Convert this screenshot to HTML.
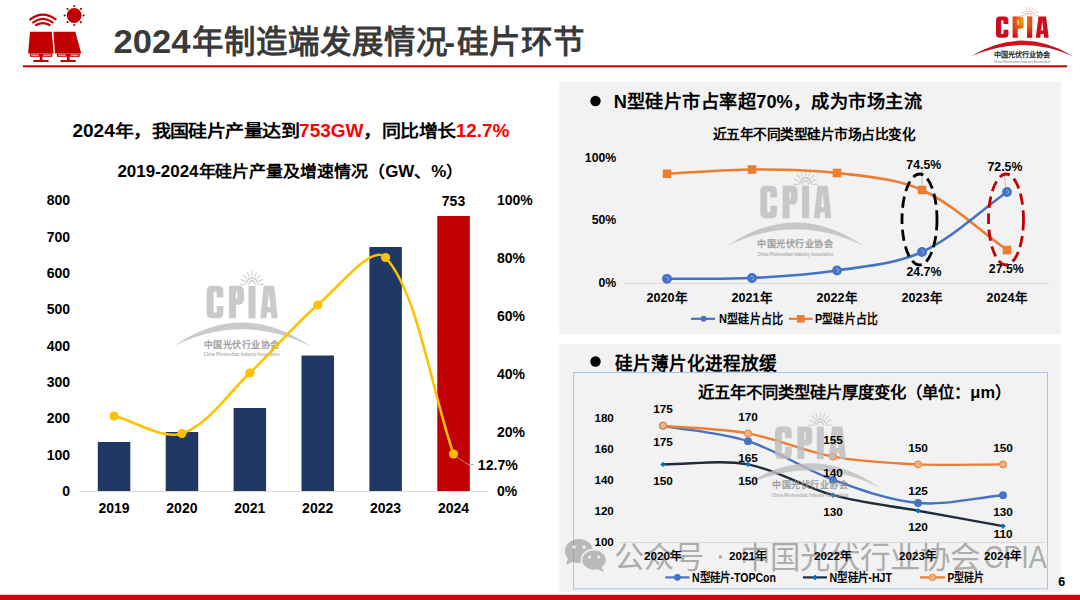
<!DOCTYPE html>
<html lang="zh-CN"><head><meta charset="utf-8"><title>2024年制造端发展情况-硅片环节</title>
<style>html,body{margin:0;padding:0;background:#fff;}body{width:1080px;height:600px;overflow:hidden;font-family:"Liberation Sans",sans-serif;}svg{display:block;}</style>
</head><body>
<svg width="1080" height="600" viewBox="0 0 1080 600" font-family="Liberation Sans, sans-serif">
<rect x="0" y="0" width="1080" height="600" fill="#fff"/>
<g fill="#c00000">
<path d="M30,31.8 L51.8,31.8 L53.7,53.6 L28.1,53.6 Z"/>
<path d="M53.4,31.8 L75.3,31.8 L81.3,53.6 L55,53.6 Z"/>
<circle cx="74.2" cy="15.5" r="7.4"/>
</g>
<g fill="none" stroke="#c00000" stroke-width="2.2" stroke-linecap="round">
<path d="M30.3,19.4 Q42.9,9.9 55.6,19.4"/>
<path d="M33.2,22.3 Q42.9,15.6 52.7,22.3"/>
<path d="M36.1,25 Q42.9,21.2 49.6,25"/>
</g>
<g fill="#c00000">
<circle cx="83.7" cy="15.5" r="1.1"/><circle cx="80.9" cy="22.2" r="1.1"/><circle cx="74.2" cy="25.0" r="1.1"/><circle cx="67.5" cy="22.2" r="1.1"/><circle cx="64.7" cy="15.5" r="1.1"/><circle cx="67.5" cy="8.8" r="1.1"/><circle cx="74.2" cy="6.0" r="1.1"/><circle cx="80.9" cy="8.8" r="1.1"/>
<rect x="30" y="53.6" width="22.2" height="3.2"/><rect x="56.9" y="53.6" width="22.8" height="3.2"/>
<rect x="39.8" y="56" width="2.6" height="4.6"/><rect x="67" y="56" width="2.6" height="4.6"/>
<rect x="33.2" y="60" width="15.5" height="2" rx="0.8"/><rect x="60.4" y="60" width="15.5" height="2" rx="0.8"/>
</g>
<g fill="#fff" opacity="0.75"><rect x="31.2" y="54.5" width="7.6" height="1.3"/><rect x="43.2" y="54.5" width="7.6" height="1.3"/><rect x="58.2" y="54.5" width="7.6" height="1.3"/><rect x="70.6" y="54.5" width="7.6" height="1.3"/></g>
<rect x="23" y="65.3" width="1044" height="2" fill="#c00000"/>
<text y="52.8" font-weight="bold" fill="#3a3a3a"><tspan x="113.6" font-size="34" textLength="77" lengthAdjust="spacingAndGlyphs">2024</tspan><tspan x="191.5" font-size="31.5">年制造端发展情况</tspan><tspan x="444.5" font-size="31.5">-</tspan><tspan x="456.5" font-size="31.5">硅片环节</tspan></text>
<defs>
<radialGradient id="lg" cx="125" cy="22" r="80" gradientUnits="userSpaceOnUse">
<stop offset="0" stop-color="#f5a300"/><stop offset="0.45" stop-color="#e8550c"/><stop offset="1" stop-color="#d00a1e"/>
</radialGradient>
<linearGradient id="ag" x1="0" x2="1" y1="0" y2="0"><stop offset="0" stop-color="#b0101e"/><stop offset="0.5" stop-color="#d8141e"/><stop offset="1" stop-color="#b0101e"/></linearGradient>
</defs>
<g opacity="1.0">
<g transform="translate(996,16.4) scale(0.214,0.214)">
<path d="M 18 0 H 40 Q 58 0 58 18 V 36 H 35 V 22 Q 35 18 31 18 H 28 Q 24 18 24 22 V 78 Q 24 82 28 82 H 31 Q 35 82 35 78 V 62 H 58 V 82 Q 58 100 40 100 H 18 Q 0 100 0 82 V 18 Q 0 0 18 0 Z" fill="url(#lg)" fill-rule="evenodd"/>
<path d="M 77.6 0 H 111.6 Q 129.4 0 129.4 18 V 40 Q 129.4 58 111.6 58 H 101.6 V 100 H 77.6 Z M 101.6 17 H 103.6 Q 106.1 17 106.1 20 V 38 Q 106.1 41 103.6 41 H 101.6 Z" fill="url(#lg)" fill-rule="evenodd"/>
<path d="M 144.9 0 H 169.2 V 100 H 144.9 Z" fill="url(#lg)" fill-rule="evenodd"/>
<path d="M 198 0 H 234 L 246.3 100 H 225 L 223 82 H 209 L 207 100 H 186 Z M 211 66 H 221 L 216 20 Z" fill="url(#lg)" fill-rule="evenodd"/>
<path d="M-115,186 Q122,40 360,186 Q122,82 -115,186 Z" fill="url(#ag)"/>
<g fill="none" stroke="#f0b8b8" stroke-width="5"><path d="M137,-4 A20,20 0 0 1 177,-4"/><path d="M146,-4 A11,11 0 0 1 168,-4"/></g>
<path d="M182.0,-4.0 L199.0,-4.0 M180.1,-13.6 L195.8,-20.1 M174.7,-21.7 L186.7,-33.7 M166.6,-27.1 L173.1,-42.8 M157.0,-29.0 L157.0,-46.0 M147.4,-27.1 L140.9,-42.8 M139.3,-21.7 L127.3,-33.7 M133.9,-13.6 L118.2,-20.1 M132.0,-4.0 L115.0,-4.0" stroke="#f0b8b8" stroke-width="3.5" fill="none"/>
</g>
<text x="993.9" y="57.1" font-size="7.08" font-weight="bold" fill="#2a2a2a" textLength="56.6" lengthAdjust="spacingAndGlyphs">中国光伏行业协会</text>
<text x="993.9" y="62.6" font-size="4.04" font-weight="bold" fill="#9a9a9a" textLength="56.6" lengthAdjust="spacingAndGlyphs">China Photovoltaic Industry Association</text>
</g>
<text x="72.5" y="137" font-size="17.5" font-weight="bold" fill="#000" textLength="437" lengthAdjust="spacingAndGlyphs">2024年，我国硅片产量达到<tspan fill="#ff0000">753GW</tspan>，同比增长<tspan fill="#ff0000">12.7%</tspan></text>
<text x="117.4" y="177.4" font-size="16" font-weight="bold" fill="#000" text-anchor="start" textLength="346" lengthAdjust="spacingAndGlyphs">2019-2024年硅片产量及增速情况（GW、%）</text>
<text x="70.1" y="496.1" font-size="14" font-weight="bold" fill="#000" text-anchor="end" >0</text>
<text x="70.1" y="459.7" font-size="14" font-weight="bold" fill="#000" text-anchor="end" >100</text>
<text x="70.1" y="423.4" font-size="14" font-weight="bold" fill="#000" text-anchor="end" >200</text>
<text x="70.1" y="387.0" font-size="14" font-weight="bold" fill="#000" text-anchor="end" >300</text>
<text x="70.1" y="350.6" font-size="14" font-weight="bold" fill="#000" text-anchor="end" >400</text>
<text x="70.1" y="314.2" font-size="14" font-weight="bold" fill="#000" text-anchor="end" >500</text>
<text x="70.1" y="277.9" font-size="14" font-weight="bold" fill="#000" text-anchor="end" >600</text>
<text x="70.1" y="241.5" font-size="14" font-weight="bold" fill="#000" text-anchor="end" >700</text>
<text x="70.1" y="205.1" font-size="14" font-weight="bold" fill="#000" text-anchor="end" >800</text>
<text x="497" y="495.5" font-size="14" font-weight="bold" fill="#000" text-anchor="start" >0%</text>
<text x="497" y="437.3" font-size="14" font-weight="bold" fill="#000" text-anchor="start" >20%</text>
<text x="497" y="379.1" font-size="14" font-weight="bold" fill="#000" text-anchor="start" >40%</text>
<text x="497" y="320.9" font-size="14" font-weight="bold" fill="#000" text-anchor="start" >60%</text>
<text x="497" y="262.7" font-size="14" font-weight="bold" fill="#000" text-anchor="start" >80%</text>
<text x="497" y="204.5" font-size="14" font-weight="bold" fill="#000" text-anchor="start" >100%</text>
<line x1="80" y1="491.5" x2="488" y2="491.5" stroke="#d9d9d9" stroke-width="1"/>
<rect x="97.8" y="442" width="32.5" height="49" fill="#203864"/>
<text x="114.0" y="513.4" font-size="14" font-weight="bold" fill="#000" text-anchor="middle" >2019</text>
<rect x="165.7" y="432" width="32.5" height="59" fill="#203864"/>
<text x="181.9" y="513.4" font-size="14" font-weight="bold" fill="#000" text-anchor="middle" >2020</text>
<rect x="233.6" y="408" width="32.5" height="83" fill="#203864"/>
<text x="249.8" y="513.4" font-size="14" font-weight="bold" fill="#000" text-anchor="middle" >2021</text>
<rect x="301.5" y="355.5" width="32.5" height="135.5" fill="#203864"/>
<text x="317.7" y="513.4" font-size="14" font-weight="bold" fill="#000" text-anchor="middle" >2022</text>
<rect x="369.4" y="247" width="32.5" height="244" fill="#203864"/>
<text x="385.6" y="513.4" font-size="14" font-weight="bold" fill="#000" text-anchor="middle" >2023</text>
<rect x="437.3" y="216" width="32.5" height="275" fill="#c00000"/>
<text x="453.5" y="513.4" font-size="14" font-weight="bold" fill="#000" text-anchor="middle" >2024</text>
<text x="453.5" y="206.4" font-size="14" font-weight="bold" fill="#000" text-anchor="middle" >753</text>
<g opacity="0.8">
<g transform="translate(206.7,285.8) scale(0.2883,0.325)">
<path d="M 18 0 H 40 Q 58 0 58 18 V 36 H 35 V 22 Q 35 18 31 18 H 28 Q 24 18 24 22 V 78 Q 24 82 28 82 H 31 Q 35 82 35 78 V 62 H 58 V 82 Q 58 100 40 100 H 18 Q 0 100 0 82 V 18 Q 0 0 18 0 Z" fill="#bdbdbd" fill-rule="evenodd"/>
<path d="M 77.6 0 H 111.6 Q 129.4 0 129.4 18 V 40 Q 129.4 58 111.6 58 H 101.6 V 100 H 77.6 Z M 101.6 17 H 103.6 Q 106.1 17 106.1 20 V 38 Q 106.1 41 103.6 41 H 101.6 Z" fill="#bdbdbd" fill-rule="evenodd"/>
<path d="M 144.9 0 H 169.2 V 100 H 144.9 Z" fill="#bdbdbd" fill-rule="evenodd"/>
<path d="M 198 0 H 234 L 246.3 100 H 225 L 223 82 H 209 L 207 100 H 186 Z M 211 66 H 221 L 216 20 Z" fill="#bdbdbd" fill-rule="evenodd"/>
<path d="M-115,186 Q122,40 360,186 Q122,82 -115,186 Z" fill="#bdbdbd"/>
<g fill="none" stroke="#c4c4c4" stroke-width="5"><path d="M137,-4 A20,20 0 0 1 177,-4"/><path d="M146,-4 A11,11 0 0 1 168,-4"/></g>
<path d="M182.0,-4.0 L199.0,-4.0 M180.1,-13.6 L195.8,-20.1 M174.7,-21.7 L186.7,-33.7 M166.6,-27.1 L173.1,-42.8 M157.0,-29.0 L157.0,-46.0 M147.4,-27.1 L140.9,-42.8 M139.3,-21.7 L127.3,-33.7 M133.9,-13.6 L118.2,-20.1 M132.0,-4.0 L115.0,-4.0" stroke="#c4c4c4" stroke-width="3.5" fill="none"/>
</g>
<text x="203.8" y="347.6" font-size="9.50" font-weight="bold" fill="#8a8a8a" textLength="76" lengthAdjust="spacingAndGlyphs">中国光伏行业协会</text>
<text x="203.8" y="356.0" font-size="5.43" font-weight="bold" fill="#9c9c9c" textLength="76" lengthAdjust="spacingAndGlyphs">China Photovoltaic Industry Association</text>
</g>
<path d="M114.0,416.0 C136.6,421.8 162.2,439.7 181.9,433.5 C207.5,425.4 227.8,393.8 249.8,373.0 C273.1,351.0 293.4,325.7 317.7,305.0 C338.7,287.2 372.7,243.3 385.6,257.5 C418.0,293.0 430.9,388.5 453.5,454.0" fill="none" stroke="#ffc000" stroke-width="2.6"/>
<circle cx="114" cy="416" r="4.6" fill="#ffc000"/>
<circle cx="181.9" cy="433.5" r="4.6" fill="#ffc000"/>
<circle cx="249.8" cy="373" r="4.6" fill="#ffc000"/>
<circle cx="317.7" cy="305" r="4.6" fill="#ffc000"/>
<circle cx="385.6" cy="257.5" r="4.6" fill="#ffc000"/>
<circle cx="453.5" cy="454" r="4.6" fill="#ffc000"/>
<path d="M453.3,454.5 L468,464.5 L474,464.5" fill="none" stroke="#a6a6a6" stroke-width="0.8"/>
<text x="477.8" y="469.5" font-size="14.5" font-weight="bold" fill="#000" text-anchor="start" textLength="40" lengthAdjust="spacingAndGlyphs">12.7%</text>
<rect x="559.5" y="82" width="501.5" height="252.5" fill="#f2f2f2"/>
<circle cx="595.5" cy="101" r="5.2" fill="#000"/>
<text x="613.8" y="108" font-size="18.7" font-weight="bold" fill="#000" text-anchor="start" textLength="308.3" lengthAdjust="spacingAndGlyphs">N型硅片市占率超70%，成为市场主流</text>
<text x="712.5" y="139.2" font-size="13.2" font-weight="bold" fill="#000" text-anchor="start" textLength="203" lengthAdjust="spacingAndGlyphs">近五年不同类型硅片市场占比变化</text>
<text x="616.3" y="162.4" font-size="12.3" font-weight="bold" fill="#000" text-anchor="end" >100%</text>
<text x="616.3" y="224.4" font-size="12.3" font-weight="bold" fill="#000" text-anchor="end" >50%</text>
<text x="616.3" y="287.4" font-size="12.3" font-weight="bold" fill="#000" text-anchor="end" >0%</text>
<line x1="624" y1="283.3" x2="1049" y2="283.3" stroke="#d9d9d9" stroke-width="1"/>
<g opacity="0.8">
<g transform="translate(760.3,185.7) scale(0.2883,0.325)">
<path d="M 18 0 H 40 Q 58 0 58 18 V 36 H 35 V 22 Q 35 18 31 18 H 28 Q 24 18 24 22 V 78 Q 24 82 28 82 H 31 Q 35 82 35 78 V 62 H 58 V 82 Q 58 100 40 100 H 18 Q 0 100 0 82 V 18 Q 0 0 18 0 Z" fill="#bdbdbd" fill-rule="evenodd"/>
<path d="M 77.6 0 H 111.6 Q 129.4 0 129.4 18 V 40 Q 129.4 58 111.6 58 H 101.6 V 100 H 77.6 Z M 101.6 17 H 103.6 Q 106.1 17 106.1 20 V 38 Q 106.1 41 103.6 41 H 101.6 Z" fill="#bdbdbd" fill-rule="evenodd"/>
<path d="M 144.9 0 H 169.2 V 100 H 144.9 Z" fill="#bdbdbd" fill-rule="evenodd"/>
<path d="M 198 0 H 234 L 246.3 100 H 225 L 223 82 H 209 L 207 100 H 186 Z M 211 66 H 221 L 216 20 Z" fill="#bdbdbd" fill-rule="evenodd"/>
<path d="M-115,186 Q122,40 360,186 Q122,82 -115,186 Z" fill="#bdbdbd"/>
<g fill="none" stroke="#c4c4c4" stroke-width="5"><path d="M137,-4 A20,20 0 0 1 177,-4"/><path d="M146,-4 A11,11 0 0 1 168,-4"/></g>
<path d="M182.0,-4.0 L199.0,-4.0 M180.1,-13.6 L195.8,-20.1 M174.7,-21.7 L186.7,-33.7 M166.6,-27.1 L173.1,-42.8 M157.0,-29.0 L157.0,-46.0 M147.4,-27.1 L140.9,-42.8 M139.3,-21.7 L127.3,-33.7 M133.9,-13.6 L118.2,-20.1 M132.0,-4.0 L115.0,-4.0" stroke="#c4c4c4" stroke-width="3.5" fill="none"/>
</g>
<text x="757.4" y="247.4" font-size="9.50" font-weight="bold" fill="#8a8a8a" textLength="76" lengthAdjust="spacingAndGlyphs">中国光伏行业协会</text>
<text x="757.4" y="255.9" font-size="5.43" font-weight="bold" fill="#9c9c9c" textLength="76" lengthAdjust="spacingAndGlyphs">China Photovoltaic Industry Association</text>
</g>
<path d="M667.0,173.8 C695.3,172.4 723.7,169.6 752.0,169.5 C780.3,169.4 808.9,169.6 837.0,173.0 C865.6,176.4 896.2,178.3 922.0,190.0 C952.9,204.0 978.7,230.0 1007.0,250.0" fill="none" stroke="#ed7d31" stroke-width="2.6"/>
<path d="M667.0,278.8 C695.3,278.5 723.7,279.4 752.0,278.0 C780.4,276.6 808.9,274.8 837.0,270.5 C865.6,266.1 896.2,263.9 922.0,252.0 C952.9,237.7 978.7,212.0 1007.0,192.0" fill="none" stroke="#4472c4" stroke-width="2.6"/>
<rect x="662.7" y="169.5" width="8.6" height="8.6" fill="#ed7d31"/>
<rect x="747.7" y="165.2" width="8.6" height="8.6" fill="#ed7d31"/>
<rect x="832.7" y="168.7" width="8.6" height="8.6" fill="#ed7d31"/>
<rect x="917.7" y="185.7" width="8.6" height="8.6" fill="#ed7d31"/>
<rect x="1002.7" y="245.7" width="8.6" height="8.6" fill="#ed7d31"/>
<circle cx="667" cy="278.8" r="4.9" fill="#4472c4"/><path d="M666,277.2 h1.5 q1,0 1,1.2 v0.8 q0,1.2 -1,1.2 h-0.6" fill="none" stroke="#a9bfe8" stroke-width="0.8"/>
<circle cx="752" cy="278" r="4.9" fill="#4472c4"/><path d="M751,276.4 h1.5 q1,0 1,1.2 v0.8 q0,1.2 -1,1.2 h-0.6" fill="none" stroke="#a9bfe8" stroke-width="0.8"/>
<circle cx="837" cy="270.5" r="4.9" fill="#4472c4"/><path d="M836,268.9 h1.5 q1,0 1,1.2 v0.8 q0,1.2 -1,1.2 h-0.6" fill="none" stroke="#a9bfe8" stroke-width="0.8"/>
<circle cx="922" cy="252" r="4.9" fill="#4472c4"/><path d="M921,250.4 h1.5 q1,0 1,1.2 v0.8 q0,1.2 -1,1.2 h-0.6" fill="none" stroke="#a9bfe8" stroke-width="0.8"/>
<circle cx="1007" cy="192" r="4.9" fill="#4472c4"/><path d="M1006,190.4 h1.5 q1,0 1,1.2 v0.8 q0,1.2 -1,1.2 h-0.6" fill="none" stroke="#a9bfe8" stroke-width="0.8"/>
<text x="667" y="302.2" font-size="12.6" font-weight="bold" fill="#000" text-anchor="middle" >2020年</text>
<text x="752" y="302.2" font-size="12.6" font-weight="bold" fill="#000" text-anchor="middle" >2021年</text>
<text x="837" y="302.2" font-size="12.6" font-weight="bold" fill="#000" text-anchor="middle" >2022年</text>
<text x="922" y="302.2" font-size="12.6" font-weight="bold" fill="#000" text-anchor="middle" >2023年</text>
<text x="1007" y="302.2" font-size="12.6" font-weight="bold" fill="#000" text-anchor="middle" >2024年</text>
<line x1="922" y1="170" x2="922" y2="186" stroke="#a6a6a6" stroke-width="0.7"/>
<line x1="1004" y1="172" x2="1006" y2="188" stroke="#a6a6a6" stroke-width="0.7"/>
<text x="923.8" y="168.5" font-size="12.3" font-weight="bold" fill="#000" text-anchor="middle" >74.5%</text>
<text x="1004.9" y="170.6" font-size="12.3" font-weight="bold" fill="#000" text-anchor="middle" >72.5%</text>
<text x="923.9" y="276.3" font-size="12.3" font-weight="bold" fill="#000" text-anchor="middle" >24.7%</text>
<text x="1006.3" y="272.6" font-size="12.3" font-weight="bold" fill="#000" text-anchor="middle" >27.5%</text>
<ellipse cx="919.5" cy="219.5" rx="17.5" ry="45.5" fill="none" stroke="#000" stroke-width="2.8" stroke-dasharray="11,5.5"/>
<ellipse cx="1006" cy="219.5" rx="17.5" ry="45.5" fill="none" stroke="#c00000" stroke-width="2.8" stroke-dasharray="11,5.5"/>
<line x1="691" y1="318.8" x2="715" y2="318.8" stroke="#4472c4" stroke-width="2.2"/><circle cx="703.5" cy="318.8" r="3" fill="#4472c4"/>
<text x="719" y="323.3" font-size="12.6" font-weight="bold" fill="#000" text-anchor="start" textLength="64.7" lengthAdjust="spacingAndGlyphs">N型硅片占比</text>
<line x1="788.7" y1="318.8" x2="812.7" y2="318.8" stroke="#ed7d31" stroke-width="2.2"/><rect x="797" y="315" width="7.6" height="7.6" fill="#ed7d31"/>
<text x="815" y="323.3" font-size="12.6" font-weight="bold" fill="#000" text-anchor="start" textLength="63" lengthAdjust="spacingAndGlyphs">P型硅片占比</text>
<rect x="559.5" y="343.8" width="501.5" height="248.4" fill="#f2f2f2"/>
<circle cx="595.5" cy="361.5" r="5.2" fill="#000"/>
<text x="614.5" y="369.5" font-size="18.5" font-weight="bold" fill="#000" text-anchor="start" textLength="162.5" lengthAdjust="spacingAndGlyphs">硅片薄片化进程放缓</text>
<rect x="573.5" y="372.5" width="474" height="216.3" fill="none" stroke="#a4c6e8" stroke-width="1"/>
<g opacity="0.55">
<g fill="#8c8c8c">
<ellipse cx="579" cy="551" rx="14" ry="12"/>
<path d="M568,558 L566,565 L574,561 Z"/>
<ellipse cx="594" cy="560" rx="12.5" ry="10.5" stroke="#f2f2f2" stroke-width="1.5"/>
<path d="M601,566 L604,572 L597,569 Z"/>
</g>
<g fill="#f2f2f2"><circle cx="574" cy="547" r="1.8"/><circle cx="584" cy="547" r="1.8"/><circle cx="589.5" cy="557" r="1.5"/><circle cx="598.5" cy="557" r="1.5"/></g>
</g>
<g fill="#7f7f7f" opacity="0.6" font-weight="normal"><text x="614.4" y="568" font-size="30.4">公众号</text><circle cx="720.4" cy="556.9" r="1.8"/><text x="739.9" y="568" font-size="30.4">中国光伏行业协会</text><text x="983.8" y="568" font-size="31.7" textLength="63" lengthAdjust="spacingAndGlyphs">CPIA</text></g>
<text x="698" y="398" font-size="16.4" font-weight="bold" fill="#000" text-anchor="start" textLength="313" lengthAdjust="spacingAndGlyphs">近五年不同类型硅片厚度变化（单位：μm）</text>
<text x="613.8" y="545.8" font-size="11.6" font-weight="bold" fill="#000" text-anchor="end" >100</text>
<text x="613.8" y="514.9" font-size="11.6" font-weight="bold" fill="#000" text-anchor="end" >120</text>
<text x="613.8" y="484.0" font-size="11.6" font-weight="bold" fill="#000" text-anchor="end" >140</text>
<text x="613.8" y="453.1" font-size="11.6" font-weight="bold" fill="#000" text-anchor="end" >160</text>
<text x="613.8" y="422.2" font-size="11.6" font-weight="bold" fill="#000" text-anchor="end" >180</text>
<line x1="620" y1="542.5" x2="1045" y2="542.5" stroke="#d9d9d9" stroke-width="1"/>
<path d="M663.0,464.4 C691.3,464.4 720.5,459.4 748.0,464.4 C777.2,469.7 804.0,487.3 833.0,495.2 C860.7,502.8 889.7,505.6 918.0,510.7 C946.3,515.9 974.7,521.0 1003.0,526.1" fill="none" stroke="#1f2a3c" stroke-width="2.4"/>
<path d="M663.0,425.7 C691.3,430.9 720.8,432.5 748.0,441.2 C777.4,450.5 803.8,469.2 833.0,479.8 C860.5,489.8 889.2,500.4 918.0,503.0 C945.9,505.5 974.7,497.8 1003.0,495.2" fill="none" stroke="#4472c4" stroke-width="2.4"/>
<path d="M663.0,425.7 C691.3,428.3 720.1,428.4 748.0,433.4 C776.8,438.7 804.2,451.4 833.0,456.6 C860.9,461.7 889.6,463.1 918.0,464.4 C946.3,465.6 974.7,464.4 1003.0,464.4" fill="none" stroke="#ed7d31" stroke-width="2.4"/>
<circle cx="663" cy="425.7" r="3.9" fill="#4472c4"/>
<circle cx="748" cy="441.2" r="3.9" fill="#4472c4"/>
<circle cx="833" cy="479.8" r="3.9" fill="#4472c4"/>
<circle cx="918" cy="503.0" r="3.9" fill="#4472c4"/>
<circle cx="1003" cy="495.2" r="3.9" fill="#4472c4"/>
<circle cx="663" cy="425.7" r="3.5" fill="#f4b183" stroke="#ed7d31" stroke-width="1"/>
<circle cx="748" cy="433.4" r="3.5" fill="#f4b183" stroke="#ed7d31" stroke-width="1"/>
<circle cx="833" cy="456.6" r="3.5" fill="#f4b183" stroke="#ed7d31" stroke-width="1"/>
<circle cx="918" cy="464.4" r="3.5" fill="#f4b183" stroke="#ed7d31" stroke-width="1"/>
<circle cx="1003" cy="464.4" r="3.5" fill="#f4b183" stroke="#ed7d31" stroke-width="1"/>
<path d="M663,461.7 L665.7,464.4 L663,467.1 L660.3,464.4 Z" fill="#0070c0"/>
<path d="M748,461.7 L750.7,464.4 L748,467.1 L745.3,464.4 Z" fill="#0070c0"/>
<path d="M833,492.6 L835.7,495.2 L833,497.9 L830.3,495.2 Z" fill="#0070c0"/>
<path d="M918,508.0 L920.7,510.7 L918,513.4 L915.3,510.7 Z" fill="#0070c0"/>
<path d="M1003,523.4 L1005.7,526.1 L1003,528.9 L1000.3,526.1 Z" fill="#0070c0"/>
<g opacity="0.8">
<g transform="translate(775,426.6) scale(0.2883,0.325)">
<path d="M 18 0 H 40 Q 58 0 58 18 V 36 H 35 V 22 Q 35 18 31 18 H 28 Q 24 18 24 22 V 78 Q 24 82 28 82 H 31 Q 35 82 35 78 V 62 H 58 V 82 Q 58 100 40 100 H 18 Q 0 100 0 82 V 18 Q 0 0 18 0 Z" fill="#bdbdbd" fill-rule="evenodd"/>
<path d="M 77.6 0 H 111.6 Q 129.4 0 129.4 18 V 40 Q 129.4 58 111.6 58 H 101.6 V 100 H 77.6 Z M 101.6 17 H 103.6 Q 106.1 17 106.1 20 V 38 Q 106.1 41 103.6 41 H 101.6 Z" fill="#bdbdbd" fill-rule="evenodd"/>
<path d="M 144.9 0 H 169.2 V 100 H 144.9 Z" fill="#bdbdbd" fill-rule="evenodd"/>
<path d="M 198 0 H 234 L 246.3 100 H 225 L 223 82 H 209 L 207 100 H 186 Z M 211 66 H 221 L 216 20 Z" fill="#bdbdbd" fill-rule="evenodd"/>
<path d="M-115,186 Q122,40 360,186 Q122,82 -115,186 Z" fill="#bdbdbd"/>
<g fill="none" stroke="#c4c4c4" stroke-width="5"><path d="M137,-4 A20,20 0 0 1 177,-4"/><path d="M146,-4 A11,11 0 0 1 168,-4"/></g>
<path d="M182.0,-4.0 L199.0,-4.0 M180.1,-13.6 L195.8,-20.1 M174.7,-21.7 L186.7,-33.7 M166.6,-27.1 L173.1,-42.8 M157.0,-29.0 L157.0,-46.0 M147.4,-27.1 L140.9,-42.8 M139.3,-21.7 L127.3,-33.7 M133.9,-13.6 L118.2,-20.1 M132.0,-4.0 L115.0,-4.0" stroke="#c4c4c4" stroke-width="3.5" fill="none"/>
</g>
<text x="772.1" y="488.4" font-size="9.50" font-weight="bold" fill="#8a8a8a" textLength="76" lengthAdjust="spacingAndGlyphs">中国光伏行业协会</text>
<text x="772.1" y="496.8" font-size="5.43" font-weight="bold" fill="#9c9c9c" textLength="76" lengthAdjust="spacingAndGlyphs">China Photovoltaic Industry Association</text>
</g>
<text x="663" y="413.2" font-size="11.8" font-weight="bold" fill="#000" text-anchor="middle" >175</text>
<text x="748" y="421.2" font-size="11.8" font-weight="bold" fill="#000" text-anchor="middle" >170</text>
<text x="833" y="444.2" font-size="11.8" font-weight="bold" fill="#000" text-anchor="middle" >155</text>
<text x="918" y="452.2" font-size="11.8" font-weight="bold" fill="#000" text-anchor="middle" >150</text>
<text x="1003" y="452.2" font-size="11.8" font-weight="bold" fill="#000" text-anchor="middle" >150</text>
<text x="663" y="445.7" font-size="11.8" font-weight="bold" fill="#000" text-anchor="middle" >175</text>
<text x="748" y="462.2" font-size="11.8" font-weight="bold" fill="#000" text-anchor="middle" >165</text>
<text x="833" y="476.9" font-size="11.8" font-weight="bold" fill="#000" text-anchor="middle" >140</text>
<text x="918" y="495.0" font-size="11.8" font-weight="bold" fill="#000" text-anchor="middle" >125</text>
<text x="1003" y="515.5" font-size="11.8" font-weight="bold" fill="#000" text-anchor="middle" >130</text>
<text x="663" y="484.5" font-size="11.8" font-weight="bold" fill="#000" text-anchor="middle" >150</text>
<text x="748" y="484.5" font-size="11.8" font-weight="bold" fill="#000" text-anchor="middle" >150</text>
<text x="833" y="515.5" font-size="11.8" font-weight="bold" fill="#000" text-anchor="middle" >130</text>
<text x="918" y="531.2" font-size="11.8" font-weight="bold" fill="#000" text-anchor="middle" >120</text>
<text x="1003" y="537.7" font-size="11.8" font-weight="bold" fill="#000" text-anchor="middle" >110</text>
<text x="663" y="559.5" font-size="11.7" font-weight="bold" fill="#000" text-anchor="middle" >2020年</text>
<text x="748" y="559.5" font-size="11.7" font-weight="bold" fill="#000" text-anchor="middle" >2021年</text>
<text x="833" y="559.5" font-size="11.7" font-weight="bold" fill="#000" text-anchor="middle" >2022年</text>
<text x="918" y="559.5" font-size="11.7" font-weight="bold" fill="#000" text-anchor="middle" >2023年</text>
<text x="1003" y="559.5" font-size="11.7" font-weight="bold" fill="#000" text-anchor="middle" >2024年</text>
<line x1="665.4" y1="577.4" x2="689.4" y2="577.4" stroke="#4472c4" stroke-width="2.2"/><circle cx="677.4" cy="577.4" r="3.3" fill="#4472c4"/>
<text x="692" y="581.8" font-size="12.3" font-weight="bold" fill="#000" text-anchor="start" textLength="84" lengthAdjust="spacingAndGlyphs">N型硅片-TOPCon</text>
<line x1="803" y1="577.4" x2="827" y2="577.4" stroke="#1f2a3c" stroke-width="2.2"/><path d="M815,574.6 L817.8,577.4 L815,580.2 L812.2,577.4 Z" fill="#0070c0"/>
<text x="829.6" y="581.8" font-size="12.3" font-weight="bold" fill="#000" text-anchor="start" textLength="62.4" lengthAdjust="spacingAndGlyphs">N型硅片-HJT</text>
<line x1="920" y1="577.4" x2="945" y2="577.4" stroke="#ed7d31" stroke-width="2.2"/><circle cx="932.5" cy="577.4" r="3.3" fill="#f4b183" stroke="#ed7d31" stroke-width="0.8"/>
<text x="947.6" y="581.8" font-size="12.3" font-weight="bold" fill="#000" text-anchor="start" textLength="36" lengthAdjust="spacingAndGlyphs">P型硅片</text>
<text x="1058.3" y="585.5" font-size="12.5" font-weight="bold" fill="#000" text-anchor="start" >6</text>
<rect x="0" y="594.8" width="1080" height="5.2" fill="#cc0011"/>
</svg>
</body></html>
